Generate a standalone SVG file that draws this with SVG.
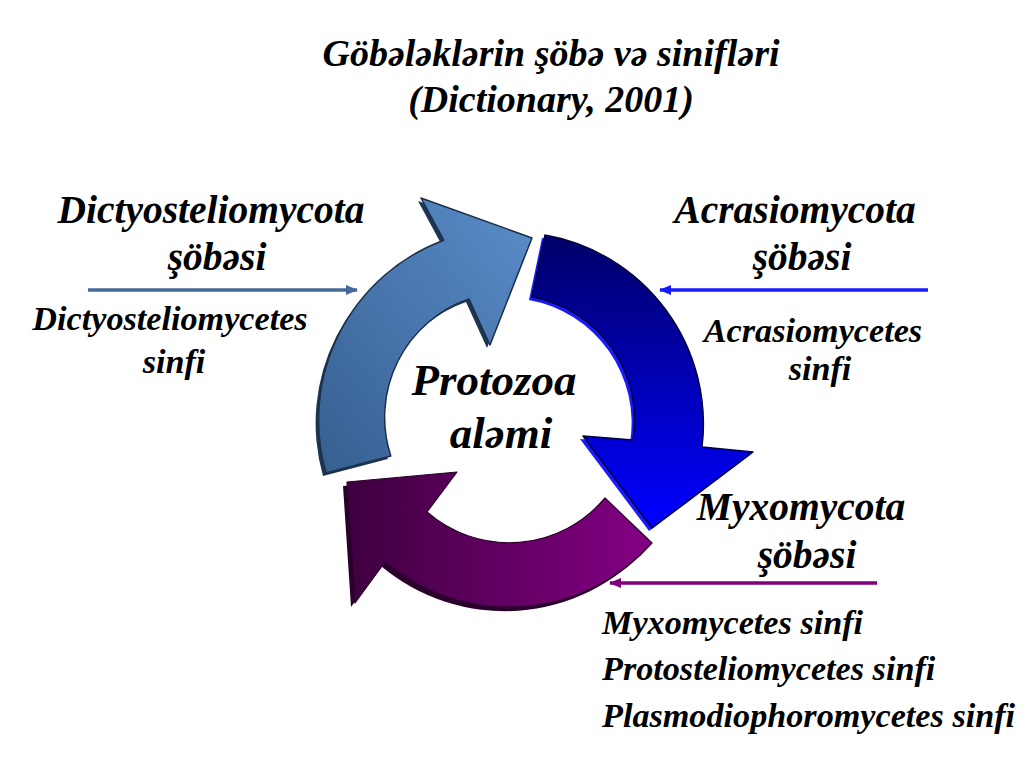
<svg xmlns="http://www.w3.org/2000/svg" width="1024" height="768" viewBox="0 0 1024 768">
<defs>
<linearGradient id="gBlue" x1="1" y1="0" x2="0" y2="1">
<stop offset="0" stop-color="#5a8dca"/>
<stop offset="1" stop-color="#375f90"/>
</linearGradient>
<linearGradient id="gNavy" gradientUnits="userSpaceOnUse" x1="0" y1="240" x2="0" y2="520">
<stop offset="0" stop-color="#00006a"/>
<stop offset="1" stop-color="#0000ff"/>
</linearGradient>
<linearGradient id="gPurple" gradientUnits="userSpaceOnUse" x1="350" y1="0" x2="650" y2="0">
<stop offset="0" stop-color="#3f0040"/>
<stop offset="1" stop-color="#840084"/>
</linearGradient>
<marker id="mSteel" viewBox="0 0 12 10" refX="11" refY="5" markerWidth="12" markerHeight="10" markerUnits="userSpaceOnUse" orient="auto">
<path d="M0,0 L12,5 L0,10 Z" fill="#44699c"/>
</marker>
<marker id="mBlue" viewBox="0 0 12 10" refX="11" refY="5" markerWidth="12" markerHeight="10" markerUnits="userSpaceOnUse" orient="auto">
<path d="M0,0 L12,5 L0,10 Z" fill="#1a1aff"/>
</marker>
<marker id="mPurple" viewBox="0 0 12 10" refX="11" refY="5" markerWidth="12" markerHeight="10" markerUnits="userSpaceOnUse" orient="auto">
<path d="M0,0 L12,5 L0,10 Z" fill="#800080"/>
</marker>
</defs>
<style>
text{font-family:"Liberation Serif","Times New Roman",serif;font-style:italic;font-weight:bold;fill:#000}
.title{font-size:38px;text-anchor:middle}
.div{font-size:39.5px;text-anchor:middle}
.cls{font-size:34.2px;text-anchor:middle}
.clsL{font-size:34.2px}
.center{font-size:45px;text-anchor:middle}
.link{fill:none;stroke-width:3.5}
</style>
<rect width="1024" height="768" fill="#fff"/>

<g id="title">
<text class="title" x="551" y="66">Göbələklərin şöbə və sinifləri</text>
<text class="title" x="551" y="112">(Dictionary, 2001)</text>
</g>

<g id="cycle">
<g id="arrow-dictyostelio">
<path transform="translate(-3,3)" fill="#1d3553" d="M326,473 A192,192 0 0 1 443.8,240.2 L421,198 L532,238 L490,345 L469,299 A125,125 0 0 0 390.8,456 Z"/>
<path fill="url(#gBlue)" stroke="#1c3048" stroke-width="1.5" stroke-linejoin="round" d="M326,473 A192,192 0 0 1 443.8,240.2 L421,198 L532,238 L490,345 L469,299 A125,125 0 0 0 390.8,456 Z"/>
</g>
<g id="arrow-acrasio">
<path transform="translate(-3,3)" fill="#1a1aff" d="M545,235 A192,192 0 0 1 702,447 L753,452 L652,528 L583,436 L633,440 A125,125 0 0 0 532,297 Z"/>
<path fill="url(#gNavy)" stroke="#00003a" stroke-width="1.5" stroke-linejoin="round" d="M545,235 A192,192 0 0 1 702,447 L753,452 L652,528 L583,436 L633,440 A125,125 0 0 0 532,297 Z"/>
</g>
<g id="arrow-myxo">
<path transform="translate(-4,4)" fill="#2a002c" d="M652,543 A192,192 0 0 1 385,562 L355,603 L347,482 L457,472 L427,512 A125,125 0 0 0 605,498 Z"/>
<path fill="url(#gPurple)" stroke="#2a002a" stroke-width="1.2" stroke-linejoin="round" d="M652,543 A192,192 0 0 1 385,562 L355,603 L347,482 L457,472 L427,512 A125,125 0 0 0 605,498 Z"/>
</g>
<g id="center">
<text class="center" x="494" y="395">Protozoa</text>
<text class="center" x="501" y="448">aləmi</text>
</g>
</g>

<g id="connectors">
<line class="link" x1="88" y1="290" x2="357" y2="290" stroke="#44699c" marker-end="url(#mSteel)"/>
<line class="link" x1="928" y1="290" x2="660" y2="290" stroke="#1a1aff" marker-end="url(#mBlue)"/>
<line class="link" x1="877" y1="583" x2="610" y2="583" stroke="#800080" marker-end="url(#mPurple)"/>
</g>

<g id="node-dictyostelio">
<text class="div" x="211" y="223">Dictyosteliomycota</text>
<text class="div" x="217" y="270">şöbəsi</text>
<text class="cls" x="170" y="330">Dictyosteliomycetes</text>
<text class="cls" x="174" y="373">sinfi</text>
</g>

<g id="node-acrasio">
<text class="div" x="795" y="223">Acrasiomycota</text>
<text class="div" x="802" y="270">şöbəsi</text>
<text class="cls" x="813" y="342">Acrasiomycetes</text>
<text class="cls" x="820" y="380">sinfi</text>
</g>

<g id="node-myxo">
<text class="div" x="801" y="520">Myxomycota</text>
<text class="div" x="807" y="568">şöbəsi</text>
<text class="clsL" x="602" y="634">Myxomycetes sinfi</text>
<text class="clsL" x="602" y="680">Protosteliomycetes sinfi</text>
<text class="clsL" x="602" y="727">Plasmodiophoromycetes sinfi</text>
</g>
</svg>
